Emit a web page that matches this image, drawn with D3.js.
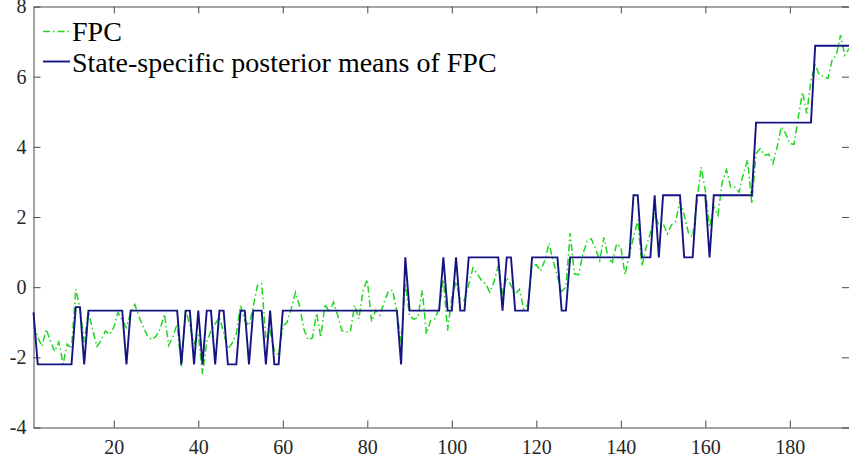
<!DOCTYPE html>
<html>
<head>
<meta charset="utf-8">
<script src="https://cdn.jsdelivr.net/npm/d3@7"></script>
<style>
  html, body { margin: 0; padding: 0; background: #fff; }
  svg { display: block; font-family: "Liberation Serif", "Times New Roman", serif; }
</style>
</head>
<body>
<svg id="chart" width="849" height="458"></svg>
<script>
// Observed first principal component (FPC), one value per period
const fpc = [
  -1.05, -1.43, -1.69, -1.2, -1.52, -1.83, -1.56, -2.19, -1.62, -1.75,
  -0.06, -0.6, -1.57, -0.7, -1.22, -1.69, -1.52, -1.25, -1.35, -1.15,
  -0.72, -0.95, -1.15, -0.72, -0.5, -0.86, -1.14, -1.4, -1.5, -1.4,
  -1.18, -0.77, -1.66, -1.4, -1.05, -2.28, -0.64, -1.1, -1.6, -1.35,
  -2.48, -1.55, -1.25, -1.05, -0.85, -1.3, -1.76, -1.6, -1.33, -0.53,
  -0.95, -1.1, -0.55, 0.05, 0.1, -1.45, -1.25, -1.8, -1.95, -1.12,
  -1.0, -0.62, -0.15, -0.55, -1.2, -1.5, -1.45, -0.74, -1.43, -0.48,
  -0.72, -0.43, -0.81, -1.24, -1.28, -1.27, -0.52, -0.9, -0.09, 0.22,
  -0.98, -0.66, -0.8, -0.42, -0.12, -0.09, -0.7, -1.58, 0.12, -0.82,
  -0.92, -0.86, -0.09, -1.33, -0.95, -0.9, -0.6, 0.22, -1.24, -0.3,
  0.16, -0.35, -0.38, 0.08, 0.55, 0.38, 0.2, 0.1, -0.14, 0.15,
  0.62, -0.2, 0.28, 0.05, -0.2, -0.06, -0.62, -0.5, 0.6, 0.64,
  0.46, 0.76, 1.25, 0.74, 0.3, -0.12, 0.0, 1.54, 0.38, 0.35,
  0.93, 1.31, 1.38, 1.1, 0.76, 1.42, 0.82, 0.71, 1.24, 1.14,
  0.35, 0.95, 1.4, 1.92, 0.6, 1.15, 1.55, 2.1, 1.75, 1.82,
  1.52, 1.78, 1.88, 2.45, 2.05, 1.55, 1.43, 2.45, 3.42, 2.76,
  1.71, 2.3, 2.05, 3.0, 3.35, 2.85, 2.85, 2.71, 3.24, 3.63,
  2.38, 3.81, 3.95, 3.76, 3.79, 3.52, 4.0, 4.57, 4.38, 4.09,
  4.07, 4.85, 5.56, 4.95, 5.9, 6.33, 6.04, 6.01, 5.95, 6.47,
  6.61, 7.18, 6.61, 6.8
];

// Posterior mean of FPC for the state assigned to each period
const stateMeans = [
  -0.72, -2.2, -2.2, -2.2, -2.2, -2.2, -2.2, -2.2, -2.2, -2.2,
  -0.57, -0.57, -2.2, -0.67, -0.67, -0.67, -0.67, -0.67, -0.67, -0.67,
  -0.67, -0.67, -2.2, -0.67, -0.67, -0.67, -0.67, -0.67, -0.67, -0.67,
  -0.67, -0.67, -0.67, -0.67, -0.67, -2.2, -0.67, -0.67, -2.2, -0.67,
  -2.2, -0.67, -0.67, -2.2, -0.67, -0.67, -2.2, -2.2, -2.2, -0.67,
  -0.67, -2.2, -0.67, -0.67, -0.67, -2.2, -0.67, -2.2, -2.2, -0.67,
  -0.67, -0.67, -0.67, -0.67, -0.67, -0.67, -0.67, -0.67, -0.67, -0.67,
  -0.67, -0.67, -0.67, -0.67, -0.67, -0.67, -0.67, -0.67, -0.67, -0.67,
  -0.67, -0.67, -0.67, -0.67, -0.67, -0.67, -0.67, -2.2, 0.85, -0.67,
  -0.67, -0.67, -0.67, -0.67, -0.67, -0.67, -0.67, 0.85, -0.67, -0.67,
  0.85, -0.67, -0.67, 0.85, 0.85, 0.85, 0.85, 0.85, 0.85, 0.85,
  0.85, -0.67, 0.85, 0.85, -0.67, -0.67, -0.67, -0.67, 0.85, 0.85,
  0.85, 0.85, 0.85, 0.85, 0.85, -0.67, -0.67, 0.85, 0.85, 0.85,
  0.85, 0.85, 0.85, 0.85, 0.85, 0.85, 0.85, 0.85, 0.85, 0.85,
  0.85, 0.85, 2.62, 2.62, 0.85, 0.85, 0.85, 2.62, 0.85, 2.62,
  2.62, 2.62, 2.62, 2.62, 0.85, 0.85, 0.85, 2.62, 2.62, 2.62,
  0.85, 2.62, 2.62, 2.62, 2.62, 2.62, 2.62, 2.62, 2.62, 2.62,
  2.62, 4.69, 4.69, 4.69, 4.69, 4.69, 4.69, 4.69, 4.69, 4.69,
  4.69, 4.69, 4.69, 4.69, 4.69, 6.88, 6.88, 6.88, 6.88, 6.88,
  6.88, 6.88, 6.88, 6.88
];

const xTicks = [20, 40, 60, 80, 100, 120, 140, 160, 180];
const yTicks = [-4, -2, 0, 2, 4, 6, 8];
const legendLabels = ["FPC", "State-specific posterior means of FPC"];

const svg = d3.select("#chart");
const plotLeft = 33.5, plotRight = 849, plotTop = 6.5, plotBottom = 427.5;

const x = d3.scaleLinear().domain([1, fpc.length]).range([plotLeft, plotRight]);
const y = d3.scaleLinear().domain([-4, 8]).range([plotBottom, plotTop]);

const axisColor = "#4a4a4a";
const textColor = "#262626";
const green = "#1fd61f";
const blue = "#141482";
const dashDot = "7,3,1.5,3";

// Axes: inward ticks on all four sides, labels on left and bottom only
const fmt = d => String(d);
const gBottom = svg.append("g").attr("transform", `translate(0,${plotBottom})`)
  .call(d3.axisBottom(x).tickValues(xTicks).tickFormat(fmt).tickSizeInner(-7).tickSizeOuter(0).tickPadding(12));
const gTop = svg.append("g").attr("transform", `translate(0,${plotTop})`)
  .call(d3.axisTop(x).tickValues(xTicks).tickFormat("").tickSizeInner(-7).tickSizeOuter(0));
const gLeft = svg.append("g").attr("transform", `translate(${plotLeft},0)`)
  .call(d3.axisLeft(y).tickValues(yTicks).tickFormat(fmt).tickSizeInner(-7).tickSizeOuter(0).tickPadding(7));
const gRight = svg.append("g").attr("transform", `translate(${plotRight},0)`)
  .call(d3.axisRight(y).tickValues(yTicks).tickFormat("").tickSizeInner(-7).tickSizeOuter(0));

[gBottom, gTop, gLeft, gRight].forEach(g => {
  g.selectAll(".domain").attr("stroke", axisColor).attr("stroke-width", 1);
  g.selectAll(".tick line").attr("stroke", axisColor).attr("stroke-width", 1);
  g.selectAll(".tick text")
    .attr("fill", textColor)
    .style("font-family", '"Liberation Serif", "Times New Roman", serif')
    .style("font-size", "20px");
});

// Series
const line = d3.line().x((d, i) => x(i + 1)).y(d => y(d));

svg.append("path")
  .datum(fpc)
  .attr("fill", "none")
  .attr("stroke", green)
  .attr("stroke-width", 1.5)
  .attr("stroke-dasharray", dashDot)
  .attr("d", line);

svg.append("path")
  .datum(stateMeans)
  .attr("fill", "none")
  .attr("stroke", blue)
  .attr("stroke-width", 1.9)
  .attr("stroke-linejoin", "miter")
  .attr("d", line);

// Legend
const legend = svg.append("g");
const legendStyles = [
  { color: green, dash: dashDot, width: 1.5, ly: 31.5, ty: 40.7 },
  { color: blue, dash: null, width: 1.9, ly: 61.5, ty: 71.5 }
];
legendLabels.forEach((label, k) => {
  const s = legendStyles[k];
  legend.append("line")
    .attr("x1", 43).attr("x2", 70)
    .attr("y1", s.ly).attr("y2", s.ly)
    .attr("stroke", s.color)
    .attr("stroke-width", s.width)
    .attr("stroke-dasharray", s.dash);
  legend.append("text")
    .attr("x", 72).attr("y", s.ty)
    .attr("fill", "#000")
    .style("font-size", "28px")
    .text(label);
});
</script>
</body>
</html>
